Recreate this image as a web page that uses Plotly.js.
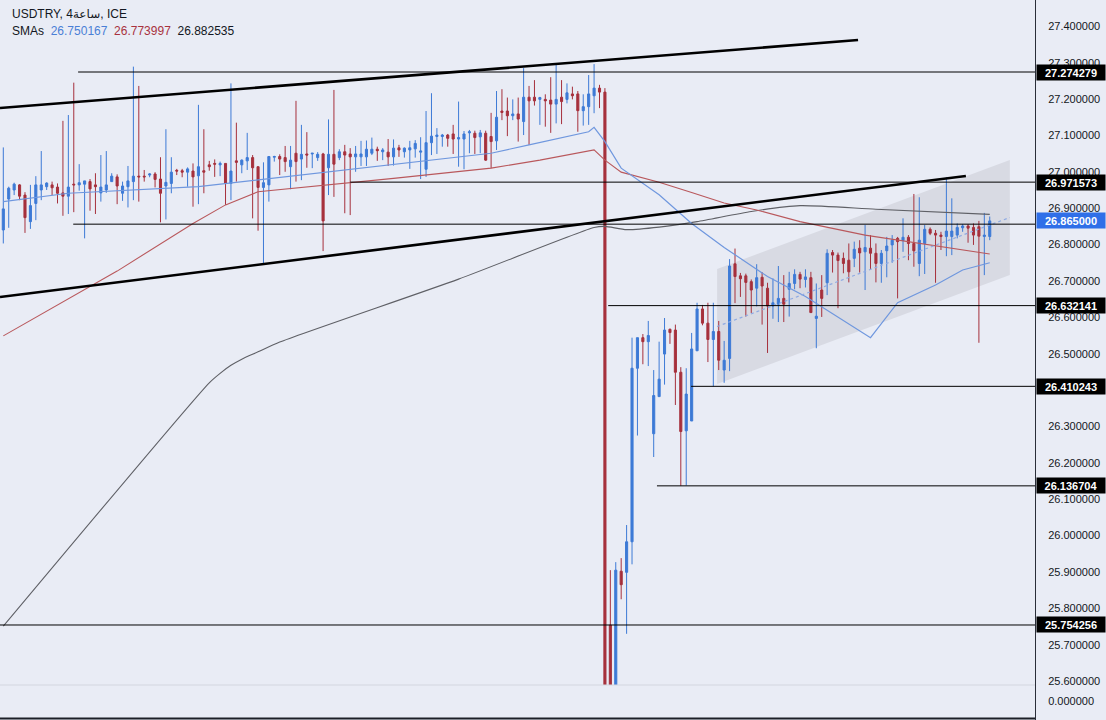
<!DOCTYPE html>
<html><head><meta charset="utf-8">
<script src="https://cdn.plot.ly/plotly-3.0.1.min.js"></script>
<style>html,body{margin:0;padding:0;background:#e9ecf5;}#chart{width:1106px;height:720px;}</style>
</head><body><div id="chart"></div>
<script>
// ---- candle data (4h bars, USDTRY) ----
const openP = [
26.840,26.925,26.950,26.964,26.936,26.863,26.913,26.950,26.959,26.964,
26.958,26.942,26.933,26.966,26.964,26.966,26.973,26.964,26.942,26.950,
26.973,26.986,26.941,26.959,26.973,26.988,26.988,26.991,26.994,26.980,
26.961,26.968,27.004,27.003,26.999,27.002,26.989,27.003,27.019,27.023,
27.019,27.023,26.968,27.030,27.019,27.030,27.039,27.014,26.957,26.964,
27.040,27.042,27.039,27.014,27.051,27.035,27.049,27.049,27.039,27.049,
27.011,27.048,27.039,27.055,27.049,27.041,27.041,27.041,27.051,27.062,
27.055,27.054,27.041,27.066,27.055,27.060,27.063,27.054,27.007,27.080,
27.097,27.097,27.101,27.104,27.090,27.090,27.107,27.106,27.096,27.106,
27.097,27.085,27.167,27.167,27.154,27.159,27.138,27.205,27.205,27.199,
27.199,27.197,27.186,27.205,27.199,27.214,27.214,27.168,27.179,27.209,
27.230,27.219,25.754,25.570,25.902,25.899,25.983,26.460,26.544,26.533,
26.280,26.382,26.499,26.567,26.565,26.449,26.288,26.315,26.508,26.623,
26.584,26.539,26.561,26.455,26.487,26.747,26.714,26.714,26.698,26.680,
26.710,26.680,26.631,26.636,26.652,26.677,26.693,26.718,26.704,26.709,
26.597,26.675,26.695,26.778,26.771,26.762,26.757,26.762,26.790,26.780,
26.790,26.776,26.748,26.783,26.799,26.817,26.811,26.820,26.803,26.748,
26.803,26.842,26.831,26.826,26.822,26.822,26.826,26.846,26.851,26.847,
26.849,26.822,26.822];
const highP = [
27.067,26.959,26.970,26.966,26.944,26.964,26.988,27.057,26.971,26.973,
26.968,27.140,27.156,27.245,27.021,26.975,26.980,26.996,27.046,27.057,
26.996,26.993,26.973,27.016,27.289,27.236,27.005,26.996,26.999,27.040,
27.117,27.040,27.008,27.008,27.012,27.023,27.184,27.117,27.030,27.034,
27.028,27.023,27.243,27.135,27.034,27.107,27.046,27.014,27.026,27.042,
27.044,27.048,27.071,27.071,27.195,27.129,27.109,27.051,27.054,27.052,
27.144,27.225,27.062,27.074,27.065,27.071,27.085,27.086,27.094,27.069,
27.065,27.090,27.089,27.074,27.067,27.085,27.087,27.095,27.167,27.216,
27.120,27.104,27.104,27.129,27.193,27.112,27.115,27.113,27.115,27.113,
27.162,27.222,27.227,27.204,27.199,27.204,27.285,27.236,27.252,27.206,
27.213,27.260,27.294,27.252,27.243,27.234,27.222,27.213,27.266,27.296,
27.239,27.230,25.905,25.927,25.938,26.029,26.544,26.544,26.554,26.590,
26.455,26.533,26.598,26.569,26.580,26.463,26.460,26.557,26.640,26.634,
26.640,26.640,26.590,26.535,26.760,26.789,26.722,26.720,26.704,26.746,
26.724,26.695,26.707,26.741,26.716,26.725,26.732,26.725,26.732,26.725,
26.693,26.716,26.787,26.785,26.778,26.778,26.803,26.808,26.812,26.854,
26.826,26.803,26.785,26.821,26.826,26.821,26.872,26.826,26.939,26.930,
26.854,26.847,26.840,26.835,26.985,26.927,26.858,26.856,26.856,26.858,
26.865,26.887,26.877];
const lowP = [
26.803,26.846,26.936,26.922,26.832,26.843,26.867,26.922,26.950,26.936,
26.913,26.879,26.884,26.889,26.948,26.817,26.893,26.884,26.918,26.942,
26.973,26.911,26.920,26.902,26.922,26.918,26.973,26.985,26.957,26.861,
26.869,26.941,26.991,26.985,26.959,26.904,26.911,26.941,27.003,26.986,
26.988,26.909,26.922,26.973,26.996,27.005,26.872,26.838,26.744,26.918,
27.028,26.991,27.000,26.952,26.973,26.977,27.011,27.010,27.030,26.782,
26.936,26.931,27.032,26.886,26.881,27.000,27.016,27.016,27.046,27.030,
27.032,27.016,27.017,27.041,27.039,27.008,27.039,26.980,26.986,27.046,
27.049,27.069,27.069,27.049,27.014,27.007,27.051,27.049,27.051,27.030,
27.010,27.060,27.142,27.098,27.142,27.083,27.101,27.074,27.182,27.129,
27.124,27.107,27.133,27.131,27.188,27.199,27.110,27.127,27.129,27.161,
27.175,25.500,25.520,25.550,25.825,25.730,25.921,26.275,26.471,26.466,
26.216,26.382,26.415,26.527,26.359,26.137,26.138,26.315,26.508,26.578,
26.477,26.410,26.455,26.420,26.452,26.639,26.656,26.602,26.612,26.630,
26.580,26.502,26.596,26.587,26.587,26.602,26.677,26.680,26.682,26.613,
26.515,26.601,26.661,26.723,26.625,26.721,26.696,26.738,26.723,26.675,
26.730,26.696,26.695,26.710,26.750,26.652,26.780,26.757,26.739,26.713,
26.719,26.826,26.695,26.785,26.768,26.771,26.817,26.835,26.805,26.799,
26.530,26.716,26.812];
const closeP = [
26.898,26.955,26.966,26.933,26.874,26.907,26.964,26.964,26.969,26.956,
26.941,26.933,26.958,26.964,26.970,26.975,26.953,26.959,26.958,26.964,
26.988,26.961,26.961,26.975,26.988,26.986,26.986,26.994,26.979,26.941,
26.971,26.999,27.002,26.999,27.008,26.986,27.014,26.999,27.014,27.021,
27.023,26.968,27.002,27.026,27.032,27.039,27.011,26.957,26.970,27.042,
27.042,27.035,27.028,27.032,27.028,27.048,27.046,27.051,27.048,26.865,
27.048,27.021,27.055,27.046,27.041,27.049,27.049,27.062,27.062,27.058,
27.060,27.041,27.065,27.060,27.065,27.066,27.078,27.057,27.080,27.098,
27.101,27.101,27.092,27.090,27.094,27.104,27.110,27.094,27.107,27.032,
27.083,27.150,27.163,27.154,27.159,27.145,27.205,27.195,27.195,27.204,
27.195,27.186,27.199,27.193,27.217,27.209,27.168,27.179,27.214,27.230,
27.219,25.550,25.560,25.905,25.865,25.983,26.460,26.544,26.533,26.550,
26.385,26.430,26.565,26.558,26.449,26.286,26.389,26.513,26.623,26.584,
26.539,26.561,26.482,26.482,26.741,26.712,26.706,26.696,26.675,26.709,
26.686,26.631,26.640,26.652,26.636,26.693,26.718,26.705,26.711,26.613,
26.603,26.652,26.776,26.771,26.756,26.748,26.725,26.787,26.777,26.792,
26.776,26.748,26.776,26.796,26.812,26.808,26.820,26.803,26.783,26.812,
26.842,26.831,26.826,26.822,26.837,26.837,26.847,26.851,26.845,26.826,
26.823,26.826,26.865];
const barIdx = closeP.map((_, i) => i);

// ---- moving averages (values read at bar indices) ----
const smaBlueIdx = [0,12,36,72,90,97,108,109,111,114,121,127,133,141,148,160,165,172,177,182];
const smaBlueVal = [26.918,26.941,26.959,27.019,27.051,27.074,27.110,27.122,27.083,27.010,26.937,26.858,26.792,26.712,26.657,26.544,26.640,26.689,26.730,26.750];
const smaRedIdx = [0,21,35,41,47,60,72,90,99,109,111,114,121,127,133,139,147,159,171,182];
const smaRedVal = [26.549,26.727,26.858,26.909,26.945,26.964,26.982,27.010,27.032,27.060,27.032,26.999,26.971,26.943,26.914,26.895,26.863,26.826,26.799,26.774];
const smaGrayIdx = [0,38,40,42,44,47,51,84,109,111,115,121,128,138,147,161,182];
const smaGrayVal = [25.751,26.420,26.446,26.468,26.485,26.505,26.532,26.705,26.847,26.850,26.841,26.848,26.863,26.891,26.907,26.897,26.883];
const smaHeader = ['26.750167','26.773997','26.882535'];

// ---- drawings ----
const hLevels = [27.274279, 26.971573, 26.856, 26.632141, 26.410243, 26.136704, 25.754256];
const hStarts = [13.8, 64.0, 12.9, 111.6, 126.9, 120.6, -0.61];
const labelLevels = [27.274279, 26.971573, 26.632141, 26.410243, 26.136704, 25.754256];
const lastPrice = 26.865;
const upperTrend = {x:[-0.61,157.7], y:[27.1753,27.3622]};
const lowerTrend = {x:[-0.61,177.6], y:[26.6558,26.9884]};
const channelX = [131.7, 185.7];
const channelTop = [26.7328, 27.0324];
const channelBot = [26.4166, 26.7162];
const channelMid = [26.5747, 26.8743];
const yTicks = [25.6,25.7,25.8,25.9,26.0,26.1,26.2,26.3,26.4,26.5,26.6,26.7,26.8,26.9,27.0,27.1,27.2,27.3,27.4];

const BG = '#e9ecf5', UP = '#3d7ad6', DOWN = '#a6303c';
const XMIN = -0.61, XMAX = 190.35;
const FONT = 'Liberation Sans, Arial, DejaVu Sans, sans-serif';

const traces = [
  {type:'candlestick', x:barIdx, open:openP, high:highP, low:lowP, close:closeP,
   increasing:{line:{color:UP,width:1}, fillcolor:UP},
   decreasing:{line:{color:DOWN,width:1}, fillcolor:DOWN},
   whiskerwidth:0, hoverinfo:'skip', xaxis:'x', yaxis:'y'},
  {type:'scatter', mode:'lines', x:smaGrayIdx, y:smaGrayVal, line:{color:'#5f6066',width:1.1, shape:'spline', smoothing:0.6}, hoverinfo:'skip'},
  {type:'scatter', mode:'lines', x:smaRedIdx, y:smaRedVal, line:{color:'#b9585c',width:1.1}, hoverinfo:'skip'},
  {type:'scatter', mode:'lines', x:smaBlueIdx, y:smaBlueVal, line:{color:'#6f97de',width:1.2}, hoverinfo:'skip'},
  {type:'scatter', mode:'lines', x:[0], y:[0], xaxis:'x', yaxis:'y2', line:{width:0}, hoverinfo:'skip'}
];

const shapes = [];
shapes.push({type:'path', xref:'x', yref:'y', layer:'below',
  path:`M ${channelX[0]},${channelTop[0]} L ${channelX[1]},${channelTop[1]} L ${channelX[1]},${channelBot[1]} L ${channelX[0]},${channelBot[0]} Z`,
  fillcolor:'#d8dae3', line:{width:0}});
shapes.push({type:'line', xref:'x', yref:'y', x0:channelX[0], x1:channelX[1], y0:channelMid[0], y1:channelMid[1],
  line:{color:'#8eaae3', width:1.2, dash:'dot'}});
hLevels.forEach((lv, k) => shapes.push({type:'line', xref:'x', yref:'y', x0:hStarts[k], x1:XMAX, y0:lv, y1:lv,
  line:{color:'#000', width:1}}));
[upperTrend, lowerTrend].forEach(t => shapes.push({type:'line', xref:'x', yref:'y', x0:t.x[0], x1:t.x[1], y0:t.y[0], y1:t.y[1],
  line:{color:'#000', width:2.6}}));
shapes.push({type:'line', xref:'paper', yref:'paper', x0:0, x1:1, y0:35/720, y1:35/720, line:{color:'#d3d6df', width:1}});
shapes.push({type:'line', xref:'paper', yref:'paper', x0:0, x1:1, y0:1.5/720, y1:1.5/720, line:{color:'#1c1f27', width:2}});

const annotations = [];
annotations.push({xref:'paper', yref:'paper', x:10/1035, y:1-14/720, xanchor:'left', yanchor:'middle', showarrow:false,
  text:'USDTRY, 4ساعة, ICE', font:{family:FONT, size:12, color:'#131722'}});
annotations.push({xref:'paper', yref:'paper', x:10/1035, y:1-31/720, xanchor:'left', yanchor:'middle', showarrow:false,
  text:'SMAs\u00a0\u00a0<span style="color:#4a7fd6">'+smaHeader[0]+'</span>\u00a0\u00a0<span style="color:#a8323e">'+smaHeader[1]+'</span>\u00a0\u00a0'+smaHeader[2],
  font:{family:FONT, size:12, color:'#131722'}});
labelLevels.forEach(lv => annotations.push({xref:'paper', yref:'y', x:1, y:lv, xanchor:'right', yanchor:'middle', xshift:71,
  showarrow:false, text:'<b>'+lv.toFixed(6)+'</b>', bgcolor:'#000', width:66, height:13, align:'center', borderpad:1,
  font:{family:FONT, size:11, color:'#fff'}}));
annotations.push({xref:'paper', yref:'y', x:1, y:lastPrice, xanchor:'right', yanchor:'middle', xshift:71,
  showarrow:false, text:'<b>'+lastPrice.toFixed(6)+'</b>', bgcolor:'#2f6fe8', width:66, height:13, align:'center', borderpad:1,
  font:{family:FONT, size:11, color:'#fff'}});

const layout = {
  width:1106, height:720, margin:{l:0, r:71, t:0, b:0},
  paper_bgcolor:BG, plot_bgcolor:BG, showlegend:false, boxgap:0.45,
  xaxis:{range:[XMIN, XMAX], visible:false, showgrid:false, zeroline:false, rangeslider:{visible:false}},
  yaxis:{domain:[35/720, 1], range:[25.5893, 27.4722], side:'right', tickvals:yTicks, tickformat:'.6f',
    showgrid:false, zeroline:false, showline:true, linecolor:'#2a2e39', linewidth:1, ticks:'', ticklabelstandoff:10,
    tickfont:{family:FONT, size:11, color:'#131722'}},
  yaxis2:{domain:[0, 35/720], range:[-0.543, 0.457], side:'right', anchor:'x', tickvals:[0], tickformat:'.6f',
    showgrid:false, zeroline:false, showline:true, linecolor:'#2a2e39', linewidth:1, ticks:'', ticklabelstandoff:10,
    tickfont:{family:FONT, size:11, color:'#131722'}},
  shapes:shapes, annotations:annotations
};

Plotly.newPlot('chart', traces, layout, {displayModeBar:false, staticPlot:true});
</script></body></html>
